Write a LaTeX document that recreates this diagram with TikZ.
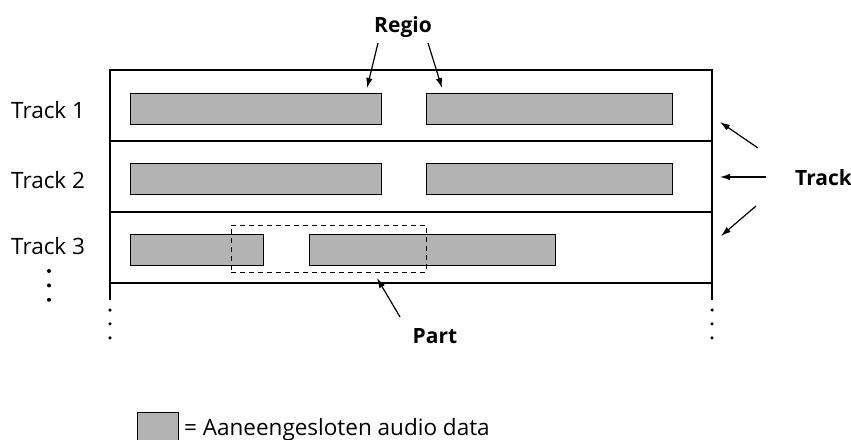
\documentclass[tikz,border=0pt]{standalone}
\usepackage{fontspec}
\setmainfont{Open Sans}
\usepackage{tikz}
\usetikzlibrary{arrows.meta, positioning}
\definecolor{regioFill}{RGB}{179,179,179}
\tikzset{
  regioNode/.style={draw=black, line width=0.9pt, fill=regioFill, anchor=north west, inner sep=0pt, minimum height=31pt},
  trackLabel/.style={font=\fontsize{22.5}{26}\selectfont, anchor=base west, inner sep=0pt},
  calloutLabel/.style={font=\fontsize{21}{24}\selectfont\bfseries, anchor=base, inner sep=0pt},
  frameLine/.style={line width=2pt, line cap=rect},
  partBox/.style={draw=black, dashed, line width=0.9pt, dash pattern=on 5pt off 4pt},
  calloutArrow/.style={-{Latex[length=10pt,width=6.5pt]}, line width=1.2pt},
  moreDot/.style={fill=black, draw=none, circle, inner sep=0pt, minimum size=4pt}
}

\begin{document}
\begin{tikzpicture}[x=1pt, y=-1pt]
  \useasboundingbox (0,0) rectangle (851,439);

  % frame of the tracks
  \draw[frameLine] (110,299) -- (110,70) -- (712,70) -- (712,299);
  \draw[frameLine, line cap=butt] (110,141) -- (712,141);
  \draw[frameLine, line cap=butt] (110,212) -- (712,212);
  \draw[frameLine, line cap=butt] (110,283) -- (712,283);

  % track labels
  \node[trackLabel] (t1) at (11,118) {Track 1};
  \node[trackLabel] (t2) at (11,188) {Track 2};
  \node[trackLabel] (t3) at (11,254) {Track 3};
  \node[moreDot] (d1) at (49,271) {};
  \node[moreDot, below=10pt of d1] (d2) {};
  \node[moreDot, below=10pt of d2] (d3) {};

  % regions
  \node[regioNode, minimum width=251pt] (r11) at (130,93) {};
  \node[regioNode, minimum width=246pt] (r12) at (426,93) {};
  \node[regioNode, minimum width=251pt] (r21) at (130,163) {};
  \node[regioNode, minimum width=246pt] (r22) at (426,163) {};
  \node[regioNode, minimum width=133pt] (r31) at (130,234) {};
  \node[regioNode, minimum width=246pt] (r32) at (309,234) {};

  % part
  \node[partBox, anchor=north west, inner sep=0pt, minimum width=195pt, minimum height=47pt] (part) at (231,225) {};

  % dots below the frame
  \foreach \xx/\nm in {110/l, 712/r} {
    \node[moreDot, minimum size=3.5pt] (\nm a) at (\xx,310) {};
    \node[moreDot, minimum size=3.5pt, below=10pt of \nm a] (\nm b) {};
    \node[moreDot, minimum size=3.5pt, below=10pt of \nm b] (\nm c) {};
  }

  % callouts
  \node[calloutLabel] (regio) at (403,32) {Regio};
  \coordinate (regioL) at (367,88);
  \coordinate (regioR) at (442,88);
  \draw[calloutArrow] (378,43) -- (regioL);
  \draw[calloutArrow] (428,43) -- (regioR);

  \node[calloutLabel, anchor=base west] (track) at (795,185) {Track};
  \coordinate (trackA) at (720,122);
  \coordinate (trackB) at (720,177);
  \coordinate (trackC) at (721,236);
  \draw[calloutArrow] (758,148) -- (trackA);
  \draw[calloutArrow] (766,177) -- (trackB);
  \draw[calloutArrow] (756,206) -- (trackC);

  \node[calloutLabel] (partlbl) at (435,343) {Part};
  \coordinate (partTip) at (377,278);
  \draw[calloutArrow] (400,317) -- (partTip);

  % legend
  \node[regioNode, minimum width=41pt, minimum height=33pt] (legend) at (137,412) {};
  \node[trackLabel, anchor=base west] (legendtxt) at (184,435) {= Aaneengesloten audio data};
\end{tikzpicture}
\end{document}
